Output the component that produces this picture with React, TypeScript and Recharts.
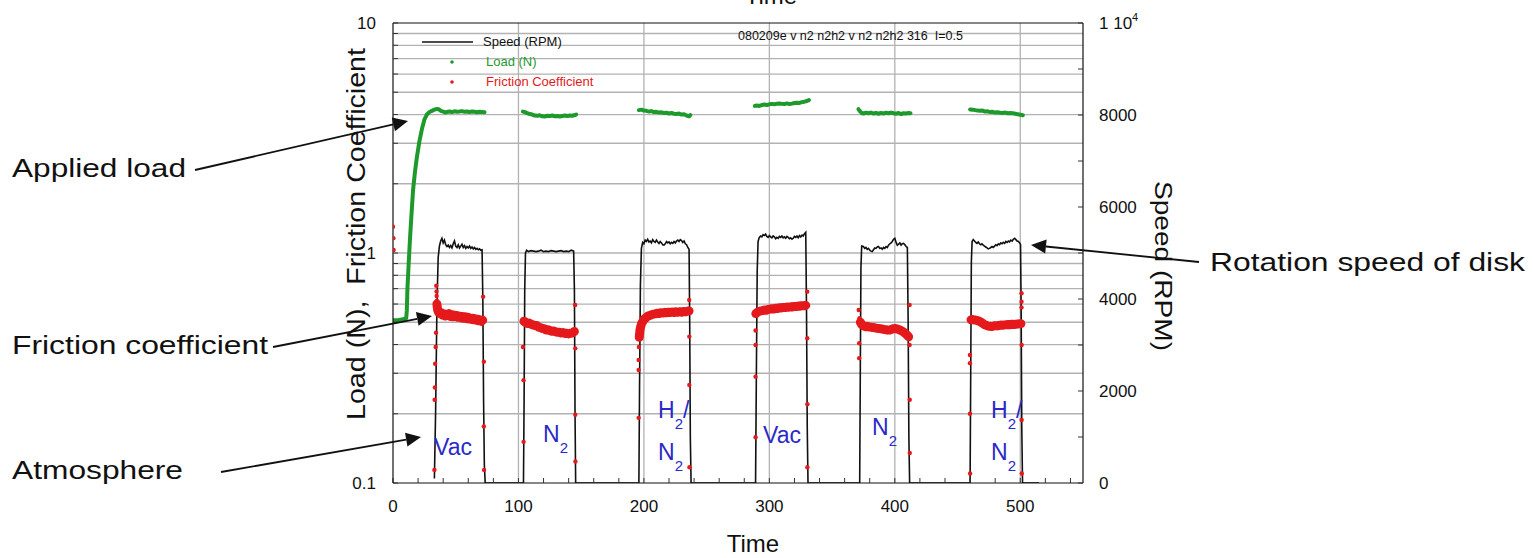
import React from "react";
import { ComposedChart, Line, Scatter, XAxis, YAxis, ReferenceLine, Legend } from "recharts";

const FONT = '"Liberation Sans", Arial, Helvetica, sans-serif';
const GREEN = "#1e9a2c";
const RED = "#e5191c";
const BLUE = "#2a2ac8";
const GRID = "#b2b2b2";

// axis ticks
const timeTicks = [0, 20, 40, 60, 80, 100, 120, 140, 160, 180, 200, 220, 240, 260, 280, 300, 320, 340, 360, 380, 400, 420, 440, 460, 480, 500, 520, 540];
const timeLabels = [0, 100, 200, 300, 400, 500];
const loadTicks = [0.1, 0.2, 0.3, 0.4, 0.5, 0.6, 0.7, 0.8, 0.9, 1, 2, 3, 4, 5, 6, 7, 8, 9, 10];
const loadLabels = [0.1, 1, 10];
const speedTicks = [0, 1000, 2000, 3000, 4000, 5000, 6000, 7000, 8000, 9000, 10000];
const speedLabels = [0, 2000, 4000, 6000, 8000, 10000];
const gridLoad = [0.2, 0.3, 0.4, 0.5, 0.6, 0.7, 0.8, 0.9, 1, 2, 3, 4, 5, 6, 7, 8, 9];
const gridTime = [100, 200, 300, 400, 500];

// speed (RPM) vs time
const speed: [number, number][] = [
  [33, 100], [34, 1600], [35, 3800], [36, 4900], [37, 5150], [38, 5260], [39, 5320], [40, 5220], [41, 5280], [42, 5180],
  [43, 5140], [44, 5170], [45, 5120], [46, 5160], [47, 5110], [48, 5200], [49, 5260], [50, 5150], [51, 5120], [52, 5180],
  [53, 5110], [54, 5150], [55, 5190], [56, 5120], [57, 5160], [58, 5100], [59, 5140], [60, 5110], [61, 5150], [62, 5100],
  [63, 5130], [64, 5090], [65, 5120], [66, 5080], [67, 5100], [68, 5070], [69, 5090], [70, 5060], [71, 5070],
  [71.6, 4000], [72.2, 1800], [72.8, 400], [73.5, 0],
  [104, 0], [104.5, 1800], [105, 4200], [105.6, 5000], [106.5, 5060], [108, 5030], [110, 5050], [112, 5040], [114, 5030],
  [116, 5040], [118, 5060], [120, 5030], [122, 5040], [124, 5030], [126, 5050], [128, 5040], [130, 5030], [132, 5040],
  [134, 5050], [136, 5030], [138, 5040], [140, 5030], [142, 5060], [144, 5040], [144.6, 4200], [145.1, 1500], [145.6, 0],
  [196, 0], [196.5, 2000], [197.2, 4300], [198, 5100], [199, 5230], [200, 5200], [201, 5280], [202, 5250], [203, 5300],
  [204, 5240], [205, 5260], [206, 5220], [207, 5290], [208, 5250], [209, 5230], [210, 5280], [211, 5240], [212, 5210],
  [213, 5250], [214, 5220], [215, 5180], [216, 5170], [217, 5200], [218, 5250], [219, 5220], [220, 5240], [221, 5200],
  [222, 5230], [223, 5210], [224, 5250], [225, 5220], [226, 5260], [227, 5280], [228, 5250], [229, 5290], [230, 5270],
  [231, 5230], [232, 5260], [233, 5200], [234, 5180], [235, 5120], [236, 5080], [236.5, 3500], [237, 1000], [237.6, 0],
  [289, 0], [289.6, 2200], [290.3, 4600], [291, 5250], [292, 5340], [293, 5370], [294, 5350], [295, 5400], [296, 5380],
  [297, 5410], [298, 5360], [299, 5340], [300, 5380], [301, 5350], [302, 5330], [303, 5370], [304, 5350], [305, 5310],
  [306, 5340], [307, 5320], [308, 5360], [309, 5340], [310, 5370], [311, 5330], [312, 5350], [313, 5320], [314, 5360],
  [315, 5340], [316, 5310], [317, 5330], [318, 5300], [319, 5320], [320, 5360], [321, 5340], [322, 5370], [323, 5330],
  [324, 5380], [325, 5350], [326, 5390], [327, 5370], [328, 5420], [329, 5450], [329.6, 3800], [330.2, 1200], [330.8, 0],
  [372, 0], [372.5, 2500], [373, 4700], [373.6, 5150], [375, 5140], [376, 5100], [377, 5120], [378, 5080], [379, 5100],
  [380, 5060], [381, 5040], [382, 5030], [383, 5070], [384, 5110], [385, 5100], [386, 5130], [387, 5140], [388, 5100],
  [389, 5110], [390, 5080], [391, 5120], [392, 5100], [393, 5140], [394, 5120], [395, 5170], [396, 5200], [397, 5220],
  [398, 5250], [399, 5300], [400, 5320], [401, 5230], [402, 5170], [403, 5190], [404, 5220], [405, 5170], [406, 5200],
  [407, 5210], [408, 5180], [409, 5140], [410, 5120], [410.6, 3600], [411.2, 1000], [411.8, 0],
  [460, 0], [460.5, 2400], [461, 4800], [461.6, 5250], [462.5, 5290], [463.5, 5260], [464.5, 5230], [465.5, 5210],
  [466.5, 5240], [467.5, 5200], [468.5, 5180], [469.5, 5200], [470.5, 5170], [471.5, 5150], [472.5, 5130], [473.5, 5110],
  [474.5, 5090], [475.5, 5100], [476.5, 5120], [477.5, 5140], [478.5, 5120], [479.5, 5150], [480.5, 5180], [481.5, 5160],
  [482.5, 5200], [483.5, 5180], [484.5, 5220], [485.5, 5200], [486.5, 5230], [487.5, 5210], [488.5, 5250], [489.5, 5230],
  [490.5, 5260], [491.5, 5240], [492.5, 5280], [493.5, 5260], [494.5, 5300], [495.5, 5320], [496.5, 5290], [497.5, 5260],
  [498.5, 5250], [499.5, 5220], [500.2, 5180], [500.7, 3800], [501.2, 1200], [501.8, 0], [515, 0],
];

// load (N), one array per run
const load1: [number, number][] = [
  [0, 0.51], [4, 0.51], [8, 0.515], [10.5, 0.52], [11, 0.56], [11.5, 0.7], [12.5, 0.9], [13.5, 1.14], [14.5, 1.4], [16, 1.88],
  [17.5, 2.25], [19, 2.6], [21, 3.05], [23, 3.45], [25, 3.8], [27, 4.0], [29, 4.1], [31, 4.15], [33, 4.2], [35, 4.23],
  [36.5, 4.22], [38, 4.15], [40, 4.12], [41.5, 4.08], [43, 4.1], [45, 4.12], [47, 4.1], [49, 4.13], [51, 4.11], [53, 4.12],
  [55, 4.14], [57, 4.11], [59, 4.12], [61, 4.1], [63, 4.12], [65, 4.11], [67, 4.09], [69, 4.11], [71, 4.1], [73, 4.09],
];
const load2: [number, number][] = [
  [103.5, 4.12], [105, 4.1], [107, 4.06], [109, 4.02], [111, 4.0], [113, 3.96], [115, 3.95], [117, 3.97], [119, 3.93],
  [121, 3.92], [123, 3.95], [125, 3.94], [127, 3.96], [129, 3.93], [131, 3.94], [133, 3.92], [135, 3.94], [137, 3.96],
  [139, 3.94], [141, 3.96], [143, 3.95], [145, 3.98], [146, 4.0],
];
const load3: [number, number][] = [
  [196, 4.18], [198, 4.2], [200, 4.16], [202, 4.15], [204, 4.12], [206, 4.14], [208, 4.1], [210, 4.11], [212, 4.08],
  [214, 4.09], [216, 4.06], [218, 4.07], [220, 4.04], [222, 4.06], [224, 4.03], [226, 4.02], [228, 4.04], [230, 4.0],
  [232, 4.01], [234, 3.96], [236, 3.93], [237, 3.98],
];
const load4: [number, number][] = [
  [288.5, 4.36], [290, 4.38], [292, 4.36], [294, 4.4], [296, 4.42], [298, 4.4], [300, 4.43], [302, 4.45], [304, 4.43],
  [306, 4.46], [308, 4.47], [310, 4.45], [312, 4.44], [314, 4.47], [316, 4.44], [318, 4.46], [320, 4.49], [322, 4.5],
  [324, 4.49], [326, 4.53], [328, 4.55], [330, 4.58], [331.5, 4.62],
];
const load5: [number, number][] = [
  [371, 4.22], [372, 4.15], [373.5, 4.06], [375, 4.04], [377, 4.07], [379, 4.05], [381, 4.08], [383, 4.04], [385, 4.06],
  [387, 4.03], [389, 4.06], [391, 4.04], [393, 4.07], [395, 4.05], [397, 4.08], [399, 4.05], [401, 4.03], [403, 4.06],
  [405, 4.02], [407, 4.05], [409, 4.04], [411, 4.06], [412.5, 4.05],
];
const load6: [number, number][] = [
  [460, 4.21], [462, 4.2], [464, 4.18], [466, 4.16], [468, 4.15], [470, 4.16], [472, 4.12], [474, 4.13], [476, 4.1],
  [478, 4.11], [480, 4.08], [482, 4.09], [484, 4.07], [486, 4.06], [488, 4.08], [490, 4.05], [492, 4.06], [494, 4.05],
  [496, 4.03], [498, 4.01], [500, 3.99], [502, 3.97],
];

// friction coefficient, steady part of each run
const fric1: [number, number][] = [
  [35, 0.6], [35.6, 0.565], [36.5, 0.55], [37.5, 0.545], [38.5, 0.55], [39.5, 0.537], [40.5, 0.545], [41.5, 0.532],
  [42.5, 0.542], [43.5, 0.535], [44.5, 0.545], [45.5, 0.53], [46.5, 0.54], [47.5, 0.528], [48.5, 0.537], [49.5, 0.53],
  [50.5, 0.535], [51.5, 0.525], [52.5, 0.532], [53.5, 0.53], [54.5, 0.522], [55.5, 0.53], [56.5, 0.52], [57.5, 0.528],
  [58.5, 0.518], [59.5, 0.525], [60.5, 0.516], [61.5, 0.522], [62.5, 0.515], [63.5, 0.52], [64.5, 0.512], [65.5, 0.518],
  [66.5, 0.51], [67.5, 0.515], [68.5, 0.507], [69.5, 0.512], [70.5, 0.505], [71.5, 0.51],
];
const fric2: [number, number][] = [
  [104.4, 0.505], [105.5, 0.5], [107, 0.494], [108.5, 0.496], [110, 0.49], [111.5, 0.487], [113, 0.484], [114.5, 0.484],
  [116, 0.476], [117.5, 0.474], [119, 0.47], [120.5, 0.469], [122, 0.463], [123.5, 0.464], [125, 0.46], [126.5, 0.457],
  [128, 0.458], [129.5, 0.455], [131, 0.452], [132.5, 0.452], [134, 0.449], [135.5, 0.451], [137, 0.447], [138.5, 0.448],
  [140, 0.445], [141.5, 0.448], [143, 0.449], [144.6, 0.456],
];
const fric3: [number, number][] = [
  [196.3, 0.43], [196.8, 0.46], [197.3, 0.475], [198.2, 0.494], [199.2, 0.505], [200.3, 0.516], [201.5, 0.522],
  [203, 0.531], [204.5, 0.535], [206, 0.538], [207.5, 0.542], [209, 0.544], [210.5, 0.547], [212, 0.546], [213.5, 0.55],
  [215, 0.548], [216.5, 0.552], [218, 0.55], [219.5, 0.553], [221, 0.551], [222.5, 0.554], [224, 0.551], [225.5, 0.555],
  [227, 0.552], [228.5, 0.556], [230, 0.553], [231.5, 0.557], [233, 0.555], [234.5, 0.558], [236, 0.56],
];
const fric4: [number, number][] = [
  [289.2, 0.545], [290, 0.55], [291.5, 0.556], [293, 0.56], [294.5, 0.562], [296, 0.565], [297.5, 0.564], [299, 0.568],
  [300.5, 0.57], [302, 0.572], [303.5, 0.571], [305, 0.575], [306.5, 0.574], [308, 0.578], [309.5, 0.577], [311, 0.58],
  [312.5, 0.579], [314, 0.582], [315.5, 0.581], [317, 0.584], [318.5, 0.583], [320, 0.586], [321.5, 0.585], [323, 0.588],
  [324.5, 0.587], [326, 0.59], [327.5, 0.589], [329, 0.592],
];
const fric5: [number, number][] = [
  [372.5, 0.5], [373.5, 0.49], [375, 0.482], [376.5, 0.478], [378, 0.48], [379.5, 0.477], [381, 0.476], [382.5, 0.474],
  [384, 0.473], [385.5, 0.471], [387, 0.47], [388.5, 0.469], [390, 0.467], [391.5, 0.465], [393, 0.464], [394.5, 0.462],
  [396, 0.463], [397.5, 0.466], [399, 0.469], [400.5, 0.47], [402, 0.467], [403.5, 0.464], [405, 0.46], [406.5, 0.455],
  [408, 0.449], [409.5, 0.441], [411, 0.432],
];
const fric6: [number, number][] = [
  [460.8, 0.512], [462, 0.514], [463.5, 0.511], [465, 0.51], [466.5, 0.507], [468, 0.502], [469.5, 0.497], [471, 0.49],
  [472.5, 0.486], [474, 0.482], [475.5, 0.48], [477, 0.479], [478.5, 0.481], [480, 0.483], [481.5, 0.482], [483, 0.484],
  [484.5, 0.486], [486, 0.485], [487.5, 0.487], [489, 0.488], [490.5, 0.489], [492, 0.488], [493.5, 0.49], [495, 0.489],
  [496.5, 0.49], [498, 0.491], [499.5, 0.492], [500.5, 0.493],
];
// isolated friction samples (start/stop transients)
const fricDots: [number, number][] = [
  [0, 1.3], [0.3, 1.16], [0.5, 1.03],
  [33, 0.114], [33.2, 0.23], [33.4, 0.26], [33.6, 0.33], [34, 0.39], [34.3, 0.45], [34.5, 0.72], [34.7, 0.68], [34.8, 0.65], [35, 0.62],
  [71.8, 0.645], [72.4, 0.337], [72.4, 0.176], [72.6, 0.114],
  [103.6, 0.39], [104.1, 0.28], [104.1, 0.151],
  [145.2, 0.594], [145.3, 0.385], [145.3, 0.198], [145.4, 0.124],
  [195.8, 0.343], [195.8, 0.31], [195.8, 0.192], [196, 0.39],
  [236.1, 0.625], [236.2, 0.433], [236.2, 0.267], [236.3, 0.117],
  [289, 0.46], [289, 0.398], [289, 0.29], [289, 0.158],
  [330.2, 0.679], [330.2, 0.426], [330.3, 0.22], [330.3, 0.117],
  [371.2, 0.565], [371.6, 0.405], [371.6, 0.349], [371.8, 0.52],
  [411.8, 0.594], [411.8, 0.398], [411.9, 0.23], [411.9, 0.135],
  [459.9, 0.36], [459.9, 0.332], [459.9, 0.2], [460, 0.11],
  [501, 0.668], [501, 0.614], [501, 0.58], [501.1, 0.398], [501.1, 0.188], [501.2, 0.11],
];

const loadRuns = [load1, load2, load3, load4, load5, load6];
const fricRuns = [fric1, fric2, fric3, fric4, fric5, fric6];
const pts = (arr: [number, number][]) => arr.map(([t, v]) => ({ t, v }));

const BottomTick = ({ x, y, payload }: any) =>
  timeLabels.includes(payload.value) ? (
    <text x={x} y={y} dy={14} textAnchor="middle" fontSize={17} fontFamily={FONT} fill="#111">{payload.value}</text>
  ) : <g />;

const LeftTick = ({ x, y, payload }: any) =>
  loadLabels.includes(payload.value) ? (
    <text x={x} y={y} dy={6} textAnchor="end" fontSize={17} fontFamily={FONT} fill="#111">{payload.value}</text>
  ) : <g />;

const RightTick = ({ x, y, payload }: any) => {
  if (!speedLabels.includes(payload.value)) return <g />;
  if (payload.value === 10000)
    return (
      <text x={x} y={y} dy={6} fontSize={17} fontFamily={FONT} fill="#111">
        1 10<tspan dy={-8} fontSize={11}>4</tspan>
      </text>
    );
  return <text x={x} y={y} dy={6} fontSize={17} fontFamily={FONT} fill="#111">{payload.value}</text>;
};

const LegendBox = () => (
  <div style={{ position: "relative", width: 200, height: 62, fontFamily: FONT, fontSize: 13 }}>
    <svg width={70} height={62} style={{ position: "absolute", left: 0, top: 0 }}>
      <line x1={2} y1={10} x2={53} y2={10} stroke="#111" strokeWidth={1.6} />
      <circle cx={32} cy={30} r={1.8} fill={GREEN} />
      <circle cx={32} cy={50} r={1.8} fill={RED} />
    </svg>
    <span style={{ position: "absolute", left: 63, top: 2, color: "#111", whiteSpace: "nowrap" }}>Speed (RPM)</span>
    <span style={{ position: "absolute", left: 66, top: 22, color: GREEN, whiteSpace: "nowrap" }}>Load (N)</span>
    <span style={{ position: "absolute", left: 66, top: 42, color: RED, whiteSpace: "nowrap" }}>Friction Coefficient</span>
  </div>
);

const Arrow = ({ x1, y1, x2, y2 }: { x1: number; y1: number; x2: number; y2: number }) => {
  const a = Math.atan2(y2 - y1, x2 - x1);
  const L = 15, W = 7;
  const bx = x2 - L * Math.cos(a), by = y2 - L * Math.sin(a);
  const p = `${x2},${y2} ${bx - W * Math.sin(a)},${by + W * Math.cos(a)} ${bx + W * Math.sin(a)},${by - W * Math.cos(a)}`;
  return (
    <g>
      <line x1={x1} y1={y1} x2={bx} y2={by} stroke="#111" strokeWidth={1.8} />
      <polygon points={p} fill="#111" />
    </g>
  );
};

const Gas = ({ x, y, main, sub, tail }: { x: number; y: number; main: string; sub?: string; tail?: string }) => (
  <text x={x} y={y} fontSize={23} fontFamily={FONT} fill={BLUE}>
    {main}
    {sub && <tspan dy={11} fontSize={15}>{sub}</tspan>}
    {tail && <tspan dy={-11}>{tail}</tspan>}
  </text>
);

export default function App() {
  return (
    <div style={{ position: "absolute", left: 0, top: 0, width: 1533, height: 558, background: "#fff" }}>
      <ComposedChart width={1533} height={558} margin={{ top: 22, right: 370, bottom: 35, left: 333 }}>
        <XAxis xAxisId="b" dataKey="t" type="number" domain={[0, 550]} ticks={timeTicks} interval={0}
          tick={<BottomTick />} tickSize={-5} tickMargin={20} height={40}
          axisLine={{ stroke: "#111", strokeWidth: 1.2 }} tickLine={{ stroke: "#333" }} allowDataOverflow />
        <XAxis xAxisId="t" orientation="top" dataKey="t" type="number" domain={[0, 550]} ticks={timeTicks} interval={0}
          tick={() => <g />} tickSize={-5} height={1}
          axisLine={{ stroke: "#111", strokeWidth: 1.2 }} tickLine={{ stroke: "#333" }} />
        <YAxis yAxisId="left" scale="log" type="number" domain={[0.1, 10]} ticks={loadTicks} interval={0}
          tick={<LeftTick />} tickSize={-5} tickMargin={22} width={60} allowDataOverflow
          axisLine={{ stroke: "#111", strokeWidth: 1.2 }} tickLine={{ stroke: "#333" }} />
        <YAxis yAxisId="right" orientation="right" type="number" domain={[0, 10000]} ticks={speedTicks} interval={0}
          tick={<RightTick />} tickSize={-5} tickMargin={21} width={80} allowDataOverflow
          axisLine={{ stroke: "#111", strokeWidth: 1.2 }} tickLine={{ stroke: "#333" }} />

        {gridLoad.map((v) => (
          <ReferenceLine key={"gy" + v} xAxisId="b" yAxisId="left" y={v} stroke={GRID} strokeWidth={1.3} />
        ))}
        {gridTime.map((v) => (
          <ReferenceLine key={"gx" + v} xAxisId="b" yAxisId="left" x={v} stroke={GRID} strokeWidth={1.3} />
        ))}

        <Legend layout="vertical" align="center" verticalAlign="middle" content={<LegendBox />}
          wrapperStyle={{ left: 420, top: 32, width: 200, height: 62 }} />

        <Line data={pts(speed)} dataKey="v" xAxisId="b" yAxisId="right" type="linear" stroke="#111"
          strokeWidth={1.6} dot={false} isAnimationActive={false} legendType="none" />
        {fricRuns.map((run, i) => (
          <Line key={"f" + i} data={pts(run)} dataKey="v" xAxisId="b" yAxisId="left" type="linear" stroke={RED}
            strokeWidth={9} strokeLinejoin="round" strokeLinecap="round" dot={false} isAnimationActive={false} legendType="none" />
        ))}
        <Scatter data={pts(fricDots)} dataKey="v" xAxisId="b" yAxisId="left" fill={RED} isAnimationActive={false}
          legendType="none" shape={(p: any) => <circle cx={p.cx} cy={p.cy} r={2.2} fill={RED} />} />
        {loadRuns.map((run, i) => (
          <Line key={"l" + i} data={pts(run)} dataKey="v" xAxisId="b" yAxisId="left" type="linear" stroke={GREEN}
            strokeWidth={4} strokeLinejoin="round" strokeLinecap="round" dot={false} isAnimationActive={false} legendType="none" />
        ))}
      </ComposedChart>

      <svg width={1533} height={558} style={{ position: "absolute", left: 0, top: 0, pointerEvents: "none" }}
        fontFamily={FONT}>
        <text x={771} y={4} textAnchor="middle" fontSize={24} fill="#111">Time</text>
        <text x={753} y={552} textAnchor="middle" fontSize={24} fill="#111">Time</text>
        <text transform="translate(365,234) rotate(-90)" textAnchor="middle" fontSize={25} fill="#111"
          textLength={372} lengthAdjust="spacingAndGlyphs" style={{ whiteSpace: "pre" }}>Load (N),  Friction Coefficient</text>
        <text transform="translate(1155,266) rotate(90)" textAnchor="middle" fontSize={24} fill="#111"
          textLength={170} lengthAdjust="spacingAndGlyphs">Speed (RPM)</text>
        <text x={738} y={40} fontSize={12.5} fill="#111" style={{ whiteSpace: "pre" }}>080209e v n2 n2h2 v n2 n2h2 316  I=0.5</text>

        <text x={12} y={177} fontSize={26} fill="#111" textLength={174} lengthAdjust="spacingAndGlyphs">Applied load</text>
        <text x={12} y={354} fontSize={26} fill="#111" textLength={256} lengthAdjust="spacingAndGlyphs">Friction coefficient</text>
        <text x={12} y={479} fontSize={26} fill="#111" textLength={171} lengthAdjust="spacingAndGlyphs">Atmosphere</text>
        <text x={1210} y={271} fontSize={26} fill="#111" textLength={315} lengthAdjust="spacingAndGlyphs">Rotation speed of disk</text>

        <Arrow x1={195} y1={170} x2={408} y2={121} />
        <Arrow x1={273} y1={347} x2={432} y2={316} />
        <Arrow x1={221} y1={472} x2={421} y2={437} />
        <Arrow x1={1199} y1={262} x2={1031} y2={245} />

        <Gas x={434} y={455} main="Vac" />
        <Gas x={543} y={442} main="N" sub="2" />
        <Gas x={658} y={418} main="H" sub="2" tail="/" />
        <Gas x={658} y={460} main="N" sub="2" />
        <Gas x={763} y={443} main="Vac" />
        <Gas x={872} y={435} main="N" sub="2" />
        <Gas x={991} y={418} main="H" sub="2" tail="/" />
        <Gas x={991} y={460} main="N" sub="2" />
      </svg>
    </div>
  );
}
